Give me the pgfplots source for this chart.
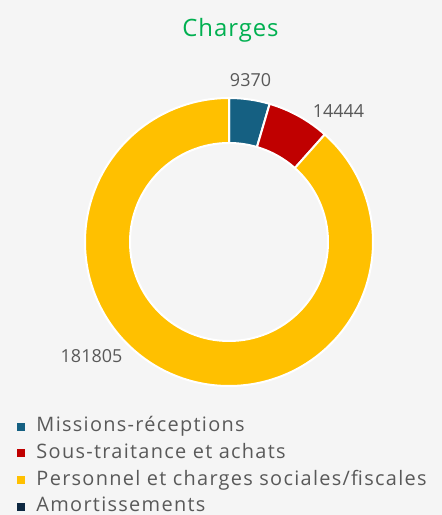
\documentclass[border=0pt]{standalone}
\usepackage{pgfplots}
\pgfplotsset{compat=1.18}
\usepackage{pgfplotstable}
\usepackage{fontspec}
\setmainfont{Open Sans}
\newfontfamily\legfont[LetterSpace=6.5]{Open Sans}
\newfontfamily\titfont[LetterSpace=4]{Open Sans}
\definecolor{bgc}{HTML}{F5F5F5}
\definecolor{col0}{HTML}{156082}
\definecolor{col1}{HTML}{C00000}
\definecolor{col2}{HTML}{FFC000}
\definecolor{col3}{HTML}{0E2841}
\definecolor{cTitle}{HTML}{00B050}
\definecolor{cText}{HTML}{595959}

\pgfplotstableread{
value
9370
14444
181805
0
}\charges

% cumulative angles (clockwise from the top)
\xdef\total{0}
\pgfplotsforeachungrouped \i in {0,...,3}{%
  \pgfplotstablegetelem{\i}{value}\of\charges
  \xdef\total{\fpeval{\total+\pgfplotsretval}}%
}
\xdef\cum{0}
\pgfplotsforeachungrouped \i in {0,...,3}{%
  \pgfplotstablegetelem{\i}{value}\of\charges
  \expandafter\xdef\csname sa\i\endcsname{\fpeval{90-360*\cum/\total}}%
  \xdef\cum{\fpeval{\cum+\pgfplotsretval}}%
  \expandafter\xdef\csname ea\i\endcsname{\fpeval{90-360*\cum/\total}}%
}
\def\SA#1{\csname sa#1\endcsname}
\def\EA#1{\csname ea#1\endcsname}
\def\Ro{144}
\def\Ri{99}

\pgfplotsset{sq/.style={legend image code/.code={\fill[##1, draw=none] (0bp,-4bp) rectangle (8bp,4bp);}}}

\begin{document}
\begin{tikzpicture}
\fill[bgc] (0,0) rectangle (442bp,515bp);
\useasboundingbox (0,0) rectangle (442bp,515bp);
\begin{axis}[
  at={(0,0)}, anchor=south west,
  scale only axis, width=442bp, height=515bp,
  xmin=-229, xmax=213, ymin=-273, ymax=242,
  hide axis, clip=false,
  legend style={at={(17/442,0.189)}, anchor=north west, draw=none, fill=none,
    inner sep=0pt, outer sep=0pt, row sep=8.7bp,
    font=\legfont\fontsize{20}{24}\selectfont, text=cText,
    nodes={inner ysep=0pt, text height=14bp, text depth=4bp},
    /tikz/every odd column/.append style={column sep=9.5bp}},
  legend cell align=left,
]
\pgfplotsinvokeforeach{0,1,2}{
  \fill[col#1, draw=white, line width=2bp]
    (axis cs:{\Ro*cos(\SA{#1})},{\Ro*sin(\SA{#1})})
    arc[start angle=\SA{#1}, end angle=\EA{#1}, radius=\Ro bp]
    -- (axis cs:{\Ri*cos(\EA{#1})},{\Ri*sin(\EA{#1})})
    arc[start angle=\EA{#1}, end angle=\SA{#1}, radius=\Ri bp]
    -- cycle;
}
\addlegendimage{sq, fill=col0}\addlegendentry{Missions-réceptions}
\addlegendimage{sq, fill=col1}\addlegendentry{Sous-traitance et achats}
\addlegendimage{sq, fill=col2}\addlegendentry{Personnel et charges sociales/fiscales}
\addlegendimage{sq, fill=col3}\addlegendentry{Amortissements}

\node[anchor=base, text=cTitle, font=\titfont\fontsize{24}{29}\selectfont] at (axis cs:1.5,205) {Charges};
\node[anchor=base, text=cText, font=\fontsize{18}{22}\selectfont] at (axis cs:21.5,155) {9370};
\node[anchor=base, text=cText, font=\fontsize{18}{22}\selectfont] at (axis cs:109.5,124) {14444};
\node[anchor=base, text=cText, font=\fontsize{18}{22}\selectfont] at (axis cs:-137.5,-121) {181805};
\end{axis}
\end{tikzpicture}
\end{document}
